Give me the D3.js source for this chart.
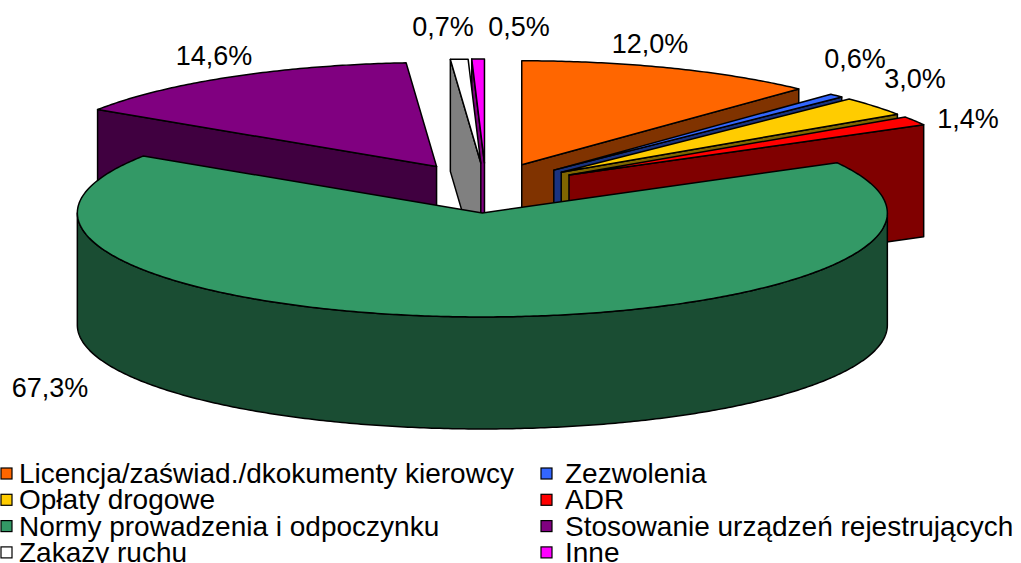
<!DOCTYPE html>
<html>
<head>
<meta charset="utf-8">
<script src="https://d3js.org/d3.v7.min.js"></script>
<style>
  body { margin: 0; background: #fff; }
  svg { display: block; }
  text { font-family: "Liberation Sans", Arial, sans-serif; font-size: 27px; fill: #000; }
  .legend text { font-size: 28px; }
  .face { stroke: #000; stroke-width: 1.5px; stroke-linejoin: round; }
</style>
</head>
<body>
<svg width="1021" height="563"></svg>
<script>
// data
const categories = [
  "Licencja/zaświad./dkokumenty kierowcy",
  "Zezwolenia",
  "Opłaty drogowe",
  "ADR",
  "Normy prowadzenia i odpoczynku",
  "Stosowanie urządzeń rejestrujących",
  "Zakazy ruchu",
  "Inne"
];
const values = [12.0, 0.6, 3.0, 1.4, 67.3, 14.6, 0.7, 0.5];
const colors = ["#ff6600", "#3366ff", "#ffcc00", "#ff0000", "#339966", "#800080", "#ffffff", "#ff00ff"];

// where excel put the data labels (center x, baseline)
const labelPos = [[650, 53], [855, 68], [915, 88], [968, 128], [50, 397], [214, 65], [443, 36], [519, 36]];

const svg = d3.select("svg");
const cx = 486, cy = 188, rx = 405, ry = 104, depth = 112, explode = 0.24;
const fmt = d => d3.format(".1f")(d).replace(".", ",") + "%";

const data = categories.map((c, i) => ({name: c, value: values[i], color: colors[i], i}));
const arcs = d3.pie().sort(null).value(d => d.value).startAngle(0).endAngle(2 * Math.PI)(data);

const pt = (o, a, r) => [o[0] + r * rx * Math.sin(a), o[1] - r * ry * Math.cos(a)];
const down = p => [p[0], p[1] + depth];
const arcPts = (o, a0, a1) => {
  const n = Math.max(2, Math.ceil((a1 - a0) / 0.01));
  return d3.range(n + 1).map(k => pt(o, a0 + (a1 - a0) * k / n, 1));
};
const line = d3.line();

arcs.forEach(d => {
  d.mid = (d.startAngle + d.endAngle) / 2;
  d.o = pt([cx, cy], d.mid, explode);
  const c = d3.rgb(d.data.color);
  d.side = d3.rgb(c.r * 0.5, c.g * 0.5, c.b * 0.5).formatHex();
});

// back slices first
const order = arcs.slice().sort((a, b) => Math.cos(b.mid) - Math.cos(a.mid));

const g = svg.append("g");
order.forEach(d => {
  const sg = g.append("g");
  const a0 = d.startAngle, a1 = d.endAngle, o = d.o;

  // radial cut faces
  [[a0, Math.sin(a0) < -1e-6], [a1, Math.sin(a1) > 1e-6]].forEach(([a, vis]) => {
    if (!vis) return;
    const p = pt(o, a, 1);
    sg.append("path").attr("class", "face")
      .attr("fill", d.side)
      .attr("d", line([o, p, down(p), down(o)]) + "Z");
  });

  // outer wall (front half only)
  const w0 = Math.max(a0, Math.PI / 2), w1 = Math.min(a1, 3 * Math.PI / 2);
  if (w1 > w0) {
    const top = arcPts(o, w0, w1);
    const bottom = top.map(down).reverse();
    sg.append("path").attr("class", "face")
      .attr("fill", d.side)
      .attr("d", line(top.concat(bottom)) + "Z");
  }

  // top
  sg.append("path").attr("class", "face")
    .attr("fill", d.data.color)
    .attr("d", line([o].concat(arcPts(o, a0, a1))) + "Z");
});

// data labels
svg.append("g").selectAll("text").data(arcs).join("text")
  .attr("x", d => labelPos[d.index][0])
  .attr("y", d => labelPos[d.index][1])
  .attr("text-anchor", "middle")
  .text(d => fmt(d.data.value));

// legend, two columns
const legend = svg.append("g").attr("class", "legend").selectAll("g").data(data).join("g")
  .attr("transform", d => `translate(${d.i % 2 ? 541 : 1}, ${483 + Math.floor(d.i / 2) * 26.3})`);
legend.append("rect")
  .attr("x", 0).attr("y", -15).attr("width", 11).attr("height", 11)
  .attr("fill", d => d.color).attr("stroke", "#000").attr("stroke-width", 1.2);
legend.append("text")
  .attr("x", d => d.i % 2 ? 24 : 18).attr("y", 0)
  .text(d => d.name);
</script>
</body>
</html>
